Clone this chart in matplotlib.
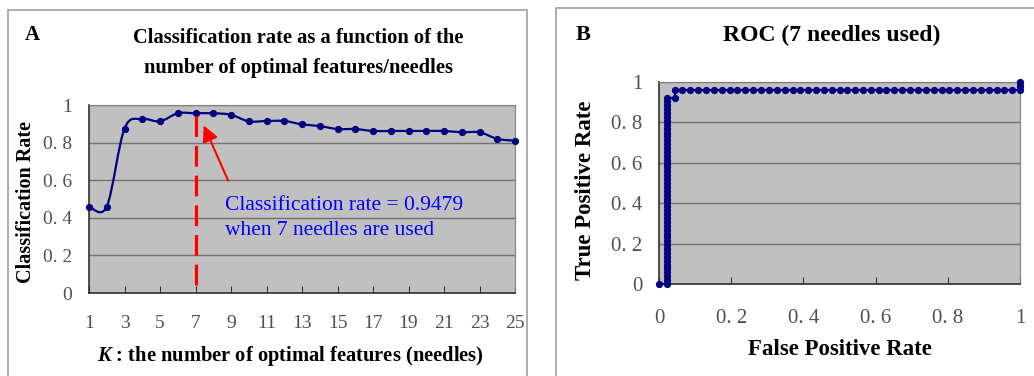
import numpy as np
import matplotlib.pyplot as plt
from matplotlib.path import Path
from matplotlib.patches import PathPatch, Rectangle

plt.rcParams['font.family'] = ['Liberation Serif', 'DejaVu Serif']
plt.rcParams['mathtext.fontset'] = 'custom'
plt.rcParams['mathtext.it'] = 'Liberation Serif:italic:bold'

# Panel A: classification rate vs number of needles
k_values = [1, 2, 3, 4, 5, 6, 7, 8, 9, 10, 11, 12, 13, 14, 15, 16, 17, 18, 19, 20, 21, 22, 23, 24, 25]
class_rate = [0.46, 0.46, 0.875, 0.925, 0.913, 0.956, 0.956, 0.956, 0.948, 0.913, 0.915, 0.915,
              0.897, 0.888, 0.872, 0.872, 0.862, 0.862, 0.862, 0.862, 0.862, 0.855, 0.855, 0.82, 0.81]
k_ticks = [1, 3, 5, 7, 9, 11, 13, 15, 17, 19, 21, 23, 25]
best_k = 7

# Panel B: ROC curve points
roc_start_fpr = [0.0]
roc_start_tpr = [0.0]
roc_vert_fpr = 0.022
roc_vert_tpr = [0.0, 0.019, 0.038, 0.058, 0.077, 0.096, 0.115, 0.135, 0.154, 0.173, 0.192, 0.212,
                0.231, 0.25, 0.269, 0.288, 0.308, 0.327, 0.346, 0.365, 0.385, 0.404, 0.423, 0.442,
                0.462, 0.481, 0.5, 0.519, 0.538, 0.558, 0.577, 0.596, 0.615, 0.635, 0.654, 0.673,
                0.692, 0.712, 0.731, 0.75, 0.769, 0.788, 0.808, 0.827, 0.846, 0.865, 0.885, 0.904,
                0.923]
roc_step_fpr = [0.043, 0.043]
roc_step_tpr = [0.923, 0.962]
roc_horiz_fpr = [0.065, 0.087, 0.109, 0.130, 0.152, 0.174, 0.196, 0.217, 0.239, 0.261, 0.283,
                 0.304, 0.326, 0.348, 0.370, 0.391, 0.413, 0.435, 0.457, 0.478, 0.5, 0.522, 0.543,
                 0.565, 0.587, 0.609, 0.630, 0.652, 0.674, 0.696, 0.717, 0.739, 0.761, 0.783, 0.804,
                 0.826, 0.848, 0.870, 0.891, 0.913, 0.935, 0.957, 0.978, 1.0]
roc_horiz_tpr = 0.962
roc_end_fpr = [1.0, 1.0]
roc_end_tpr = [0.98, 1.0]
roc_ticks = [0, 0.2, 0.4, 0.6, 0.8, 1]
roc_ticklabels = ['0', '0. 2', '0. 4', '0. 6', '0. 8', '1']
y_ticks = [0, 0.2, 0.4, 0.6, 0.8, 1]
y_ticklabels = ['0', '0. 2', '0. 4', '0. 6', '0. 8', '1']

NAVY = '#000080'
BG = '#c0c0c0'
GRID = '#707070'
TICKCOL = '#505050'


def smooth_path(xs, ys):
    # Excel-like smoothed line: cubic bezier with catmull-rom control points
    pts = np.column_stack([xs, ys]).astype(float)
    verts = [pts[0]]
    codes = [Path.MOVETO]
    n = len(pts)
    for i in range(n - 1):
        p0 = pts[max(i - 1, 0)]
        p1 = pts[i]
        p2 = pts[i + 1]
        p3 = pts[min(i + 2, n - 1)]
        c1 = p1 + (p2 - p0) / 6.0
        c2 = p2 - (p3 - p1) / 6.0
        verts += [c1, c2, p2]
        codes += [Path.CURVE4] * 3
    return Path(verts, codes)


def style_axes(ax, size):
    ax.set_facecolor(BG)
    for side in ['top', 'right']:
        ax.spines[side].set_color('#808080')
    for side in ['left', 'bottom']:
        ax.spines[side].set_color('#303030')
        ax.spines[side].set_linewidth(1.2)
    ax.yaxis.grid(True, color=GRID, linewidth=1.0)
    ax.set_axisbelow(True)
    ax.tick_params(axis='y', length=0, pad=12, labelsize=size, labelcolor=TICKCOL)
    ax.tick_params(axis='x', direction='in', length=5, color='#303030', labelsize=size,
                   labelcolor=TICKCOL)


fig = plt.figure(figsize=(10.34, 3.76), dpi=100)
W, H = 1034.0, 376.0

# panel frames
fig.add_artist(Rectangle((8 / W, -0.1), (527 - 8) / W, 1.1 - 10 / H, transform=fig.transFigure,
                         fill=False, edgecolor='#a0a0a0', linewidth=1.2))
fig.add_artist(Rectangle((556 / W, -0.1), 0.5, 1.1 - 8 / H, transform=fig.transFigure,
                         fill=False, edgecolor='#a0a0a0', linewidth=1.2))

# ---- Panel A ----
ax1 = fig.add_axes([89 / W, 1 - 293 / H, 426 / W, 188 / H])
style_axes(ax1, 14)
ax1.set_xlim(1, 25)
ax1.set_ylim(0, 1)
ax1.set_xticks(k_ticks)
ax1.set_xticklabels([str(k) for k in k_ticks])
ax1.set_yticks(y_ticks)
ax1.set_yticklabels(y_ticklabels)
ax1.tick_params(axis='x', pad=16)

ax1.add_patch(PathPatch(smooth_path(k_values, class_rate), fill=False, edgecolor=NAVY,
                        linewidth=1.6, zorder=3))
ax1.plot(k_values, class_rate, linestyle='none', marker='o', markersize=4.2, color=NAVY,
         zorder=4, clip_on=False)
ax1.plot([best_k, best_k], [0.04, 0.99], color='#ff0000', linewidth=2.3,
         dashes=(6.5, 2.8), zorder=5)
ax1.annotate('', xy=(7.4, 0.905), xytext=(8.9, 0.585),
             arrowprops=dict(arrowstyle='-|>', color='#ff0000', lw=1.5, mutation_scale=24),
             zorder=6)
ax1.text(8.65, 0.468, 'Classification rate = 0.9479', color='#0000ff', fontsize=15.5,
         va='center', ha='left')
ax1.text(8.65, 0.335, 'when 7 needles are used', color='#0000ff', fontsize=15.5,
         va='center', ha='left')

ax1.set_ylabel('Classification Rate', fontsize=14.5, fontweight='bold')
ax1.yaxis.set_label_coords(-0.125, 0.484)
ax1.set_xlabel('$K$ : the number of optimal features (needles)', fontsize=14.8,
               fontweight='bold')
ax1.xaxis.set_label_coords(0.472, -0.272)

fig.text(298 / W, 1 - 53 / H,
         'Classification rate as a function of the\nnumber of optimal features/needles',
         ha='center', va='center', fontsize=14.8, fontweight='bold', linespacing=1.62)
fig.text(32 / W, 1 - 35 / H, 'A', ha='center', va='center', fontsize=15, fontweight='bold')

# ---- Panel B ----
ax2 = fig.add_axes([659 / W, 1 - 284 / H, 361 / W, 202 / H])
style_axes(ax2, 15)
ax2.set_xlim(0, 1)
ax2.set_ylim(0, 1)
ax2.set_xticks(roc_ticks)
ax2.set_xticklabels(roc_ticklabels)
ax2.set_yticks(y_ticks)
ax2.set_yticklabels(y_ticklabels)
ax2.tick_params(axis='x', pad=18)

roc_fpr = (roc_start_fpr + [roc_vert_fpr] * len(roc_vert_tpr) + roc_step_fpr
           + roc_horiz_fpr + roc_end_fpr)
roc_tpr = (roc_start_tpr + roc_vert_tpr + roc_step_tpr
           + [roc_horiz_tpr] * len(roc_horiz_fpr) + roc_end_tpr)
ax2.plot(roc_fpr, roc_tpr, color=NAVY, linewidth=1.6, marker='o', markersize=4.2,
         zorder=4, clip_on=False)

ax2.set_ylabel('True Positive Rate', fontsize=16.5, fontweight='bold')
ax2.yaxis.set_label_coords(-0.175, 0.465)
ax2.set_xlabel('False Positive Rate', fontsize=16.5, fontweight='bold')
ax2.xaxis.set_label_coords(0.501, -0.272)

fig.text(832 / W, 1 - 35 / H, 'ROC (7 needles used)', ha='center', va='center',
         fontsize=17, fontweight='bold')
fig.text(583 / W, 1 - 35 / H, 'B', ha='center', va='center', fontsize=16, fontweight='bold')

plt.savefig('out.png', dpi=100)
